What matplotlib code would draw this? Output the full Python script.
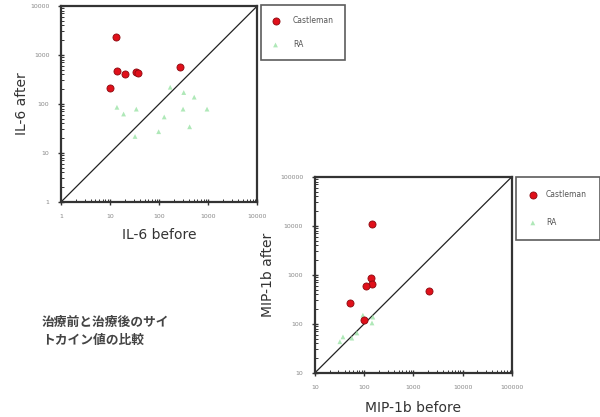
import matplotlib
matplotlib.use('Agg')
import matplotlib.pyplot as plt
from matplotlib.ticker import LogLocator, NullFormatter

# IL-6 (before, after)
il6_cast_before = [13, 13.7, 20, 33, 36, 9.7, 268]
il6_cast_after = [2350, 478, 410, 450, 420, 215, 575]
il6_ra_before = [13.7, 18.7, 34, 32, 97, 126, 167, 305, 315, 415, 515, 940]
il6_ra_after = [85, 62, 78, 21.6, 27, 54, 218, 78, 170, 34, 137, 78]

# MIP-1b (before, after)
mip_cast_before = [146, 135, 142, 107, 51, 2100, 99]
mip_cast_after = [11000, 880, 660, 590, 268, 470, 120]
mip_ra_before = [94, 150, 37, 56, 71, 144, 32]
mip_ra_after = [150, 137, 54, 51, 65, 104, 43]

il6_ticks = [1, 10, 100, 1000, 10000]
il6_labels = ['1', '10', '100', '1000', '10000']
mip_ticks = [10, 100, 1000, 10000, 100000]
mip_labels = ['10', '100', '1000', '10000', '100000']

note = '治療前と治療後のサイ\nトカイン値の比較'

plt.rcParams['font.family'] = ['DejaVu Sans']

fig = plt.figure(figsize=(6, 4.17), dpi=100)
fig.patch.set_facecolor('white')

red = '#e0101a'
green = '#9be3a6'
txt = '#333333'


def panel(pos, cb, ca, rb, ra, ticks, labels, xlabel, ylabel, xl_pos, yl_pos,
          leg_pos, leg_pad, leg_space, leg_gap):
    ax = fig.add_axes(pos)
    ax.set_xscale('log')
    ax.set_yscale('log')
    ax.set_xlim(ticks[0], ticks[-1])
    ax.set_ylim(ticks[0], ticks[-1])
    ax.plot([ticks[0], ticks[-1]], [ticks[0], ticks[-1]], color='#222222', lw=0.9, zorder=1)
    ax.scatter(rb, ra, marker='^', s=12, color=green, alpha=0.8, edgecolors='none',
               label='RA', zorder=2)
    ax.scatter(cb, ca, marker='o', s=26, color=red, edgecolors='#8a0a10', linewidths=0.6,
               label='Castleman', zorder=3)
    ax.set_xticks(ticks)
    ax.set_xticklabels(labels)
    ax.set_yticks(ticks)
    ax.set_yticklabels(labels)
    ax.xaxis.set_minor_locator(LogLocator(base=10, subs=range(2, 10)))
    ax.yaxis.set_minor_locator(LogLocator(base=10, subs=range(2, 10)))
    ax.xaxis.set_minor_formatter(NullFormatter())
    ax.yaxis.set_minor_formatter(NullFormatter())
    ax.tick_params(which='major', direction='inout', length=5, width=1.0,
                   labelsize=4.5, labelcolor='#888888', color='#333333', pad=6)
    ax.tick_params(which='minor', direction='in', length=2.5, width=0.7, color='#333333')
    for s in ax.spines.values():
        s.set_linewidth(1.6)
        s.set_color('#333333')
    ax.set_xlabel(xlabel, fontsize=10, color=txt, fontweight='medium')
    ax.set_ylabel(ylabel, fontsize=10, color=txt, fontweight='medium')
    ax.xaxis.set_label_coords(0.5, xl_pos, transform=ax.transAxes)
    ax.yaxis.set_label_coords(yl_pos, 0.5, transform=ax.transAxes)
    ax.xaxis.label.set_va('center')
    ax.yaxis.label.set_va('center')
    h, l = ax.get_legend_handles_labels()
    leg = fig.legend(h[::-1], l[::-1], loc='upper left', bbox_to_anchor=leg_pos,
                     bbox_transform=fig.transFigure, fontsize=5.5, frameon=True,
                     fancybox=False, edgecolor='#333333', labelspacing=leg_space,
                     borderpad=leg_pad, handletextpad=leg_gap, handlelength=1.0,
                     borderaxespad=0)
    leg.get_frame().set_linewidth(1.2)
    for t in leg.get_texts():
        t.set_color('#555555')
    return ax


panel([0.102, 0.516, 0.327, 0.470], il6_cast_before, il6_cast_after,
      il6_ra_before, il6_ra_after, il6_ticks, il6_labels,
      'IL-6 before', 'IL-6 after', -0.168, -0.2, (0.435, 0.988), 1.4, 2.0, 1.8)
panel([0.525, 0.106, 0.328, 0.470], mip_cast_before, mip_cast_after,
      mip_ra_before, mip_ra_after, mip_ticks, mip_labels,
      'MIP-1b before', 'MIP-1b after', -0.18, -0.24, (0.86, 0.576), 1.7, 2.5, 1.2)

fig.text(0.07, 0.205, note, fontsize=9.2, color='#444444', fontweight='bold',
         family=['Noto Sans CJK JP', 'DejaVu Sans'], linespacing=1.5, va='center')

fig.savefig('out.png', dpi=100, facecolor='white')
